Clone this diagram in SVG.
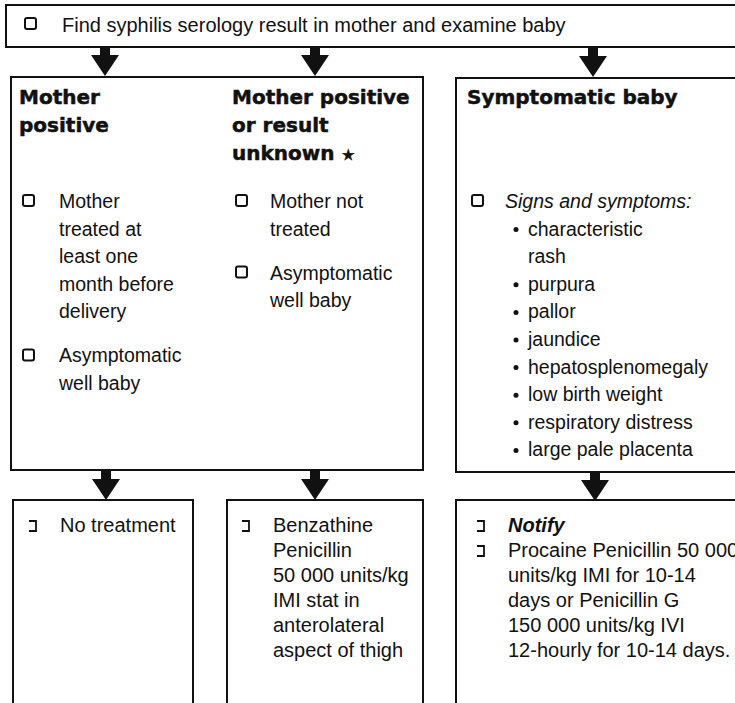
<svg xmlns="http://www.w3.org/2000/svg" xmlns:xlink="http://www.w3.org/1999/xlink" width="735" height="703" viewBox="0 0 735 703">
<style>
.box{fill:#fff;stroke:#111;stroke-width:2}
.t{font-family:"Liberation Sans",Arial,sans-serif;font-size:20px;fill:#111}
.u{font-family:"Liberation Sans",Arial,sans-serif;font-size:19.5px;fill:#111}
.h{font-family:"DejaVu Sans",sans-serif;font-weight:bold;font-size:20px;fill:#111;stroke:#111;stroke-width:0.5}
.cb{fill:none;stroke:#111;stroke-width:2}
.br{fill:none;stroke:#111;stroke-width:1.8}
.dot{fill:#111}
.arr{fill:#111}
</style>
<defs>
<path id="arrow" class="arr" d="M-5,0 H5 V8 H14 L0,29 L-14,8 H-5 Z"/>
</defs>
<rect width="735" height="703" fill="#fff"/>
<g id="connectors">
<use xlink:href="#arrow" x="105" y="47"/>
<use xlink:href="#arrow" x="315" y="47"/>
<use xlink:href="#arrow" x="593" y="48"/>
<use xlink:href="#arrow" x="106" y="471"/>
<use xlink:href="#arrow" x="315" y="471"/>
<use xlink:href="#arrow" x="595" y="472"/>
</g>
<g id="n-top">
<rect class="box" x="6" y="5" width="740" height="42"/>
<rect class="cb" x="25" y="18" width="11" height="11" rx="2"/>
<text class="t" x="62" y="32" font-size="20.3">Find syphilis serology result in mother and examine baby</text>
</g>
<g id="n-mother">
<rect class="box" x="11" y="77" width="412" height="393"/>
<g id="n-mother-positive">
<text class="h" x="19" y="104">Mother</text>
<text class="h" x="19" y="132">positive</text>
<rect class="cb" x="23" y="195" width="11" height="11" rx="2"/>
<text class="u" x="59" y="208">Mother</text>
<text class="u" x="59" y="235.6">treated at</text>
<text class="u" x="59" y="263.2">least one</text>
<text class="u" x="59" y="290.8">month before</text>
<text class="u" x="59" y="318.4">delivery</text>
<rect class="cb" x="23" y="349.4" width="11" height="11" rx="2"/>
<text class="u" x="59" y="362.4">Asymptomatic</text>
<text class="u" x="59" y="390">well baby</text>
</g>
<g id="n-mother-unknown">
<text class="h" x="232" y="104">Mother positive</text>
<text class="h" x="232" y="132">or result</text>
<text class="h" x="232" y="160">unknown <tspan font-size="15">★</tspan></text>
<rect class="cb" x="236" y="195" width="11" height="11" rx="2"/>
<text class="u" x="270" y="208">Mother not</text>
<text class="u" x="270" y="235.6">treated</text>
<rect class="cb" x="236" y="266.6" width="11" height="11" rx="2"/>
<text class="u" x="270" y="279.6">Asymptomatic</text>
<text class="u" x="270" y="307.2">well baby</text>
</g>
</g>
<g id="n-symptomatic">
<rect class="box" x="456" y="78" width="290" height="394"/>
<text class="h" x="467" y="104">Symptomatic baby</text>
<rect class="cb" x="472" y="195" width="11" height="11" rx="2"/>
<text class="u" x="505" y="208" font-style="italic">Signs and symptoms:</text>
<g class="dot">
<circle cx="516" cy="229.6" r="2.5"/>
<circle cx="516" cy="284.8" r="2.5"/>
<circle cx="516" cy="312.4" r="2.5"/>
<circle cx="516" cy="340" r="2.5"/>
<circle cx="516" cy="367.6" r="2.5"/>
<circle cx="516" cy="395.2" r="2.5"/>
<circle cx="516" cy="422.8" r="2.5"/>
<circle cx="516" cy="450.4" r="2.5"/>
</g>
<text class="u" x="528" y="235.6">characteristic</text>
<text class="u" x="528" y="263.2">rash</text>
<text class="u" x="528" y="290.8">purpura</text>
<text class="u" x="528" y="318.4">pallor</text>
<text class="u" x="528" y="346">jaundice</text>
<text class="u" x="528" y="373.6">hepatosplenomegaly</text>
<text class="u" x="528" y="401.2">low birth weight</text>
<text class="u" x="528" y="428.8">respiratory distress</text>
<text class="u" x="528" y="456.4">large pale placenta</text>
</g>
<g id="n-no-treatment">
<rect class="box" x="13" y="500" width="180" height="210"/>
<path class="br" d="M29,521 H36 V531 H29"/>
<text class="t" x="60" y="532">No treatment</text>
</g>
<g id="n-benzathine">
<rect class="box" x="227" y="500" width="196" height="210"/>
<path class="br" d="M242,521 H249 V531 H242"/>
<text class="t" x="273" y="532">Benzathine</text>
<text class="t" x="273" y="557">Penicillin</text>
<text class="t" x="273" y="582">50 000 units/kg</text>
<text class="t" x="273" y="607">IMI stat in</text>
<text class="t" x="273" y="632">anterolateral</text>
<text class="t" x="273" y="657">aspect of thigh</text>
</g>
<g id="n-notify">
<rect class="box" x="456" y="500" width="290" height="210"/>
<path class="br" d="M477,521 H484 V531 H477"/>
<text class="t" x="508" y="532" font-weight="bold" font-style="italic">Notify</text>
<path class="br" d="M477,546 H484 V556 H477"/>
<text class="t" x="508" y="557">Procaine Penicillin 50 000</text>
<text class="t" x="508" y="582">units/kg IMI for 10-14</text>
<text class="t" x="508" y="607">days or Penicillin G</text>
<text class="t" x="508" y="632">150 000 units/kg IVI</text>
<text class="t" x="508" y="657">12-hourly for 10-14 days.</text>
</g>
</svg>
